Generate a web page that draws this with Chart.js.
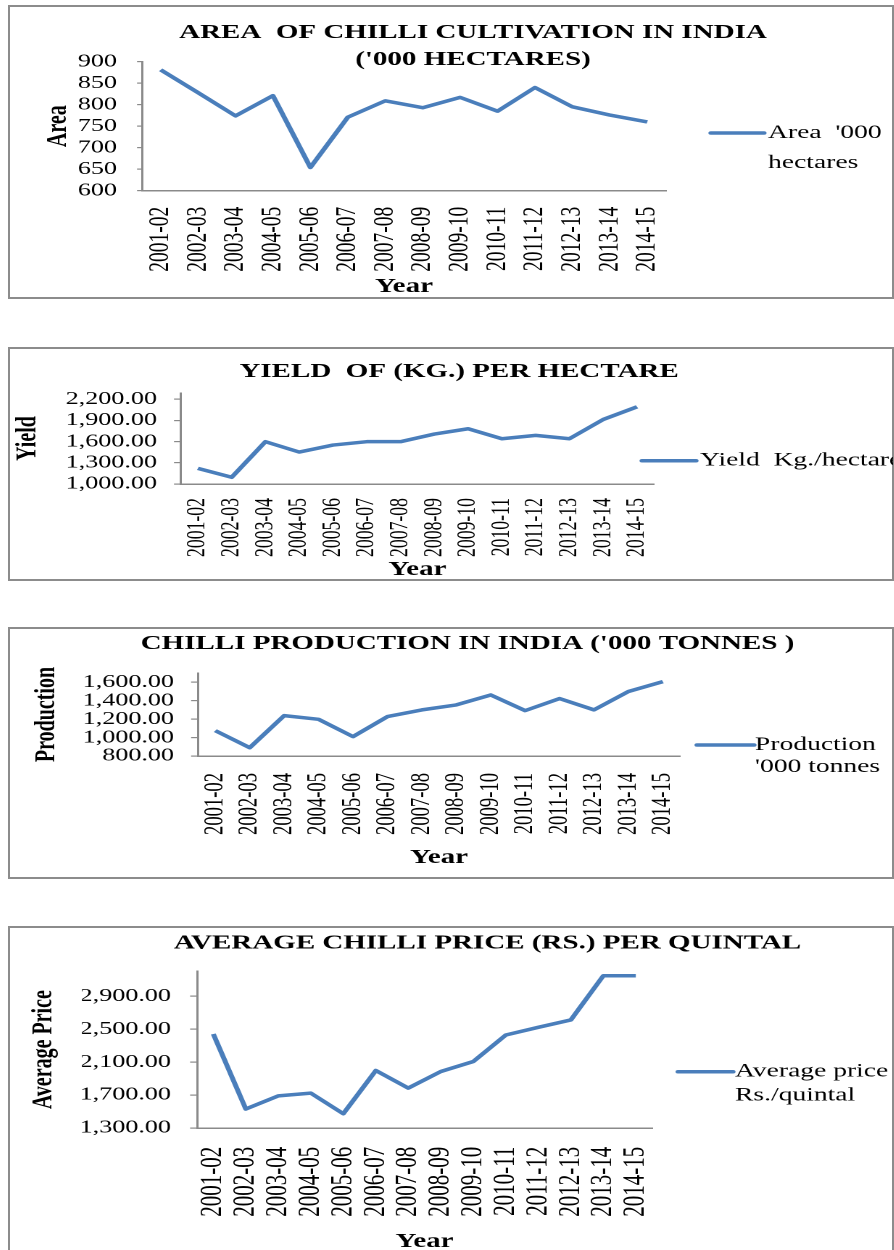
<!DOCTYPE html>
<html>
<head>
<meta charset="utf-8">
<script src="https://cdn.jsdelivr.net/npm/chart.js@4.4.0/dist/chart.umd.min.js"></script>
<style>
body { margin: 0; background: #fff; width: 894px; height: 1250px; overflow: hidden; position: relative; }
.box { position: absolute; left: 8px; width: 886px; border: 2px solid #8c8c8c; box-sizing: border-box; }
.wrap { position: absolute; left: 10px; transform: scaleX(1.45); transform-origin: 0 0; }
</style>
</head>
<body>
<div class="box" style="top:5px;height:294px"></div>
<div class="box" style="top:347px;height:234px"></div>
<div class="box" style="top:627px;height:252px"></div>
<div class="box" style="top:926px;height:344px"></div>

<div class="wrap" style="top:7px"><canvas id="areaChart" width="609" height="289"></canvas></div>
<div class="wrap" style="top:349px"><canvas id="yieldChart" width="609" height="229"></canvas></div>
<div class="wrap" style="top:629px"><canvas id="productionChart" width="609" height="247"></canvas></div>
<div class="wrap" style="top:928px"><canvas id="priceChart" width="609" height="322"></canvas></div>

<script>
var years = ["2001-02", "2002-03", "2003-04", "2004-05", "2005-06", "2006-07", "2007-08",
             "2008-09", "2009-10", "2010-11", "2011-12", "2012-13", "2013-14", "2014-15"];

var areaValues = [881, 828, 774, 821, 654, 771, 809, 793, 817, 785, 840, 795, 776, 760];
var yieldValues = [1222, 1095, 1600, 1453, 1552, 1600, 1600, 1708, 1783, 1642, 1689, 1642, 1915, 2094];
var productionValues = [1075, 890, 1238, 1198, 1010, 1227, 1300, 1354, 1462, 1292, 1423, 1300, 1499, 1607];
var priceValues = [2440, 1530, 1690, 1723, 1473, 1997, 1784, 1985, 2106, 2428, 2521, 2610, 3146, 3146];

var areaTicks = [600, 650, 700, 750, 800, 850, 900];
var yieldTicks = [1000, 1300, 1600, 1900, 2200];
var productionTicks = [800, 1000, 1200, 1400, 1600];
var priceTicks = [1300, 1700, 2100, 2500, 2900];

var serif = '"Liberation Serif", "Times New Roman", serif';
var axisGray = "#8a8a8a";
var lineBlue = "#4a7ebb";

// legend drawn beside the plot, label text taken from the dataset
function sideLegend(lg) {
    return {
        id: "sideLegend",
        afterDraw: function (chart) {
            var ds = chart.data.datasets[0];
            var ctx = chart.ctx;
            ctx.save();
            ctx.strokeStyle = ds.borderColor;
            ctx.lineWidth = ds.borderWidth;
            ctx.lineCap = "round";
            ctx.beginPath();
            ctx.moveTo(lg.x0, lg.y);
            ctx.lineTo(lg.x1, lg.y);
            ctx.stroke();
            ctx.fillStyle = "#000";
            ctx.font = "19px " + serif;
            ctx.textBaseline = "middle";
            ds.label.split("\n").forEach(function (t, i) {
                ctx.fillText(t, lg.tx, lg.y + i * lg.gap);
            });
            ctx.restore();
        }
    };
}

function makeChart(id, c) {
    return new Chart(id, {
        type: "line",
        data: {
            labels: years,
            datasets: [{
                label: c.label,
                data: c.values,
                borderColor: lineBlue,
                borderWidth: 3.5,
                borderJoinStyle: "round",
                pointRadius: 0,
                tension: 0,
                fill: false
            }]
        },
        plugins: [sideLegend(c.legend)],
        options: {
            responsive: false,
            animation: false,
            devicePixelRatio: 2,
            layout: { padding: { left: c.padL, right: 0, top: 0, bottom: 0 } },
            plugins: {
                legend: { display: false },
                tooltip: { enabled: false },
                title: {
                    display: true,
                    text: c.title,
                    color: "#000",
                    font: { family: serif, size: 20, weight: "bold", lineHeight: 1.35 },
                    padding: { top: c.tTop, bottom: c.tBot }
                }
            },
            scales: {
                x: {
                    offset: true,
                    grid: { display: false, drawTicks: false },
                    border: { color: axisGray, width: 1.5 },
                    ticks: {
                        autoSkip: false, minRotation: 90, maxRotation: 90,
                        padding: c.xPad, color: "#000",
                        font: { family: serif, size: c.xFont }
                    },
                    title: {
                        display: true, text: "Year", color: "#000",
                        font: { family: serif, size: 20, weight: "bold", lineHeight: 1 },
                        padding: { top: 0, bottom: c.xtPad }
                    },
                    afterFit: function (s) { s.height = c.xH; }
                },
                y: {
                    min: c.min,
                    max: c.max,
                    grid: { drawOnChartArea: false, tickLength: c.tl, color: axisGray, lineWidth: 1.2 },
                    border: { color: axisGray, width: 1.5 },
                    ticks: {
                        autoSkip: false,
                        padding: c.yPad, color: "#000",
                        font: { family: serif, size: 18 },
                        callback: function (v) {
                            return c.dec ? v.toLocaleString("en-US", { minimumFractionDigits: 2, maximumFractionDigits: 2 }) : String(v);
                        }
                    },
                    title: {
                        display: true, text: c.yTitle, color: "#000",
                        font: { family: serif, size: 20, weight: "bold", lineHeight: 1 },
                        padding: { top: c.ytPad, bottom: 0 }
                    },
                    afterBuildTicks: function (s) {
                        s.ticks = c.ticks.map(function (v) { return { value: v }; });
                    },
                    afterFit: function (s) { s.width = c.yW; }
                },
                pad: {
                    type: "linear",
                    position: "right",
                    grid: { display: false },
                    border: { display: false },
                    ticks: { display: false },
                    afterFit: function (s) { s.width = c.rW; }
                }
            }
        }
    });
}

makeChart("areaChart", {
    title: ["AREA  OF CHILLI CULTIVATION IN INDIA", "('000 HECTARES)"],
    label: "Area  '000\nhectares",
    values: areaValues, ticks: areaTicks, min: 600, max: 900, dec: false,
    yTitle: "Area",
    padL: 29.6, yW: 61.4, rW: 156.6, tTop: 12.5, tBot: -11.8,
    xH: 105.3, xPad: 16, xFont: 19.5, xtPad: -1, tl: 3.4, yPad: 13.8, ytPad: -6.5,
    legend: { x0: 483.4, x1: 520, y: 126, tx: 522.8, gap: 30 }
});

makeChart("yieldChart", {
    title: "YIELD  OF (KG.) PER HECTARE",
    label: "Yield  Kg./hectare",
    values: yieldValues, ticks: yieldTicks, min: 1000, max: 2290, dec: true,
    yTitle: "Yield",
    padL: 10.4, yW: 107.5, rW: 164.9, tTop: 9.2, tBot: 7.8,
    xH: 94, xPad: 14, xFont: 17.7, xtPad: -2, tl: 4.8, yPad: 11.7, ytPad: -8.3,
    legend: { x0: 435.9, x1: 473.1, y: 111.7, tx: 475.9, gap: 24 }
});

makeChart("productionChart", {
    title: "CHILLI PRODUCTION IN INDIA ('000 TONNES )",
    label: "Production\n'000 tonnes",
    values: productionValues, ticks: productionTicks, min: 800, max: 1700, dec: true,
    yTitle: "Production",
    padL: 22, yW: 107.7, rW: 146.9, tTop: 1.5, tBot: 15.5,
    xH: 120, xPad: 17, xFont: 18.6, xtPad: 8, tl: 4.8, yPad: 11.8, ytPad: -6.5,
    legend: { x0: 473.8, x1: 513.1, y: 116, tx: 513.8, gap: 22 }
});

makeChart("priceChart", {
    title: "AVERAGE CHILLI PRICE (RS.) PER QUINTAL",
    label: "Average price\nRs./quintal",
    values: priceValues, ticks: priceTicks, min: 1300, max: 3200, dec: true,
    yTitle: "Average Price",
    padL: 49.6, yW: 79.4, rW: 166.2, tTop: 1.8, tBot: 14.5,
    xH: 122, xPad: 18.7, xFont: 21, xtPad: -1.7, tl: 4.8, yPad: 13.2, ytPad: -36.2,
    legend: { x0: 460.7, x1: 498.6, y: 143.7, tx: 500, gap: 24 }
});
</script>
</body>
</html>
